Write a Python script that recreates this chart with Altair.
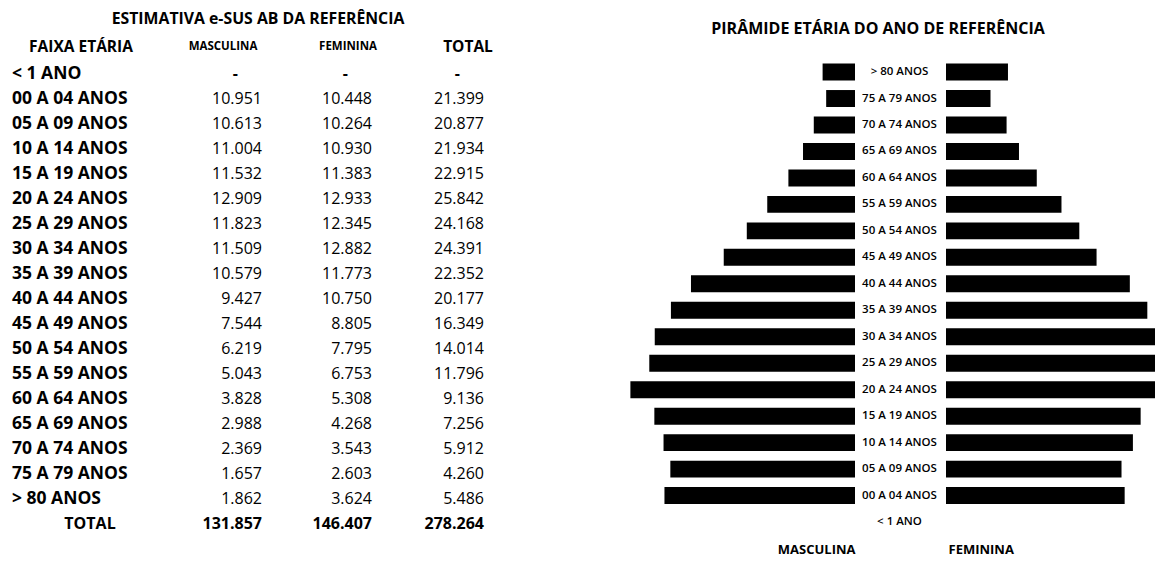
import altair as alt
import pandas as pd

# ---------------- data ----------------
faixas = ["< 1 ANO", "00 A 04 ANOS", "05 A 09 ANOS", "10 A 14 ANOS", "15 A 19 ANOS",
          "20 A 24 ANOS", "25 A 29 ANOS", "30 A 34 ANOS", "35 A 39 ANOS", "40 A 44 ANOS",
          "45 A 49 ANOS", "50 A 54 ANOS", "55 A 59 ANOS", "60 A 64 ANOS", "65 A 69 ANOS",
          "70 A 74 ANOS", "75 A 79 ANOS", "> 80 ANOS"]
masculina = [None, 10951, 10613, 11004, 11532, 12909, 11823, 11509, 10579, 9427,
             7544, 6219, 5043, 3828, 2988, 2369, 1657, 1862]
feminina = [None, 10448, 10264, 10930, 11383, 12933, 12345, 12882, 11773, 10750,
            8805, 7795, 6753, 5308, 4268, 3543, 2603, 3624]
total = [None, 21399, 20877, 21934, 22915, 25842, 24168, 24391, 22352, 20177,
         16349, 14014, 11796, 9136, 7256, 5912, 4260, 5486]
totais = [131857, 146407, 278264]

colunas = ["faixa", "masc", "fem", "total"]
cabecalho = ["FAIXA ETÁRIA", "MASCULINA", "FEMININA", "TOTAL"]

FONT = "Open Sans"


def fmt(v):
    return f"{v:,}".replace(",", ".")


# ---------------- table ----------------
rows = list(range(1, len(faixas) + 1))
total_row = len(faixas) + 1
col_idx = {c: i for i, c in enumerate(colunas)}

lab_df = pd.DataFrame({"row": rows, "label": faixas, "c": 0})
num_rec, dash_rec = [], []
for r, m, f, t in zip(rows, masculina, feminina, total):
    for col, v in (("masc", m), ("fem", f), ("total", t)):
        if v is None:
            dash_rec.append({"row": r, "c": col_idx[col], "text": "-"})
        else:
            num_rec.append({"row": r, "c": col_idx[col], "text": fmt(v)})
num_df = pd.DataFrame(num_rec)
dash_df = pd.DataFrame(dash_rec)
tot_df = pd.DataFrame({"row": total_row, "c": [1, 2, 3], "text": [fmt(v) for v in totais]})
tot_lab_df = pd.DataFrame({"row": [total_row], "c": [0], "text": ["TOTAL"]})
head_df = pd.DataFrame({"row": 0, "c": [0, 1, 2, 3], "text": cabecalho})
head_big = head_df[head_df["c"].isin([0, 3])]
head_small = head_df[head_df["c"].isin([1, 2])]

anchor_scale = alt.Scale(domain=[0, 1, 2, 3], range=[4, 254, 364, 476])
center_scale = alt.Scale(domain=[0, 1, 2, 3], range=[73, 215, 340, 460])
yscale = alt.Scale(domain=[0, total_row], range=[12, 487])

X_anchor = alt.X("c:Q", scale=anchor_scale, axis=None)
X_center = alt.X("c:Q", scale=center_scale, axis=None)
Y_row = alt.Y("row:Q", scale=yscale, axis=None)

labels_layer = alt.Chart(lab_df).mark_text(
    align="left", baseline="middle", font=FONT, fontSize=17.5, fontWeight="bold", color="black"
).encode(x=X_anchor, y=Y_row, text="label:N")

nums_layer = alt.Chart(num_df).mark_text(
    align="right", baseline="middle", font=FONT, fontSize=16, color="black"
).encode(x=X_anchor, y=Y_row, text="text:N")

dash_layer = alt.Chart(dash_df).mark_text(
    align="right", baseline="middle", font=FONT, fontSize=16, fontWeight="bold", color="black", dx=-24
).encode(x=X_anchor, y=Y_row, text="text:N")

tot_layer = alt.Chart(tot_df).mark_text(
    align="right", baseline="middle", font=FONT, fontSize=16, fontWeight="bold", color="black"
).encode(x=X_anchor, y=Y_row, text="text:N")

tot_lab_layer = alt.Chart(tot_lab_df).mark_text(
    align="center", baseline="middle", font=FONT, fontSize=16, fontWeight="bold", color="black", dx=9
).encode(x=X_center, y=Y_row, text="text:N")

head_big_layer = alt.Chart(head_big).mark_text(
    align="center", baseline="middle", font=FONT, fontSize=15.5, fontWeight="bold", color="black", dy=-2
).encode(x=X_center, y=Y_row, text="text:N")

head_small_layer = alt.Chart(head_small).mark_text(
    align="center", baseline="middle", font=FONT, fontSize=11.5, fontWeight="bold", color="black", dy=-2
).encode(x=X_center, y=Y_row, text="text:N")

table = alt.layer(
    labels_layer, nums_layer, dash_layer, tot_layer, tot_lab_layer, head_big_layer, head_small_layer
).resolve_scale(x="independent").properties(
    width=500, height=500,
    title=alt.Title("ESTIMATIVA e-SUS AB DA REFERÊNCIA", font=FONT, fontSize=15.8,
                    fontWeight="bold", color="black", offset=9, anchor="middle"),
)

# ---------------- pyramid ----------------
ordem = list(reversed(faixas))  # top to bottom
pyr_df = pd.DataFrame({"faixa": faixas, "masculina": masculina, "feminina": feminina})

Y_band = alt.Y("faixa:N", sort=ordem,
               scale=alt.Scale(domain=ordem, range=[21.8, 498.3], paddingInner=0.36, paddingOuter=0.18),
               axis=None)

male = alt.Chart(pyr_df).mark_bar(color="black").encode(
    x=alt.X("masculina:Q", scale=alt.Scale(domain=[0, 14598], reverse=True, nice=False),
            axis=alt.Axis(title="MASCULINA", labels=False, ticks=False, domain=False, grid=False,
                          titleFont=FONT, titleFontSize=13, titleFontWeight="bold", titleColor="black",
                          titleX=254, titleAlign="right", titlePadding=6)),
    y=Y_band,
).properties(width=254, height=500)

mid = alt.Chart(pyr_df).mark_text(
    font=FONT, fontSize=11.5, fontWeight=600, color="black", dx=-1, baseline="middle"
).encode(y=Y_band, text="faixa:N").properties(width=91, height=500)

female = alt.Chart(pyr_df).mark_bar(color="black", clip=True).encode(
    x=alt.X("feminina:Q", scale=alt.Scale(domain=[0, 12222], nice=False),
            axis=alt.Axis(title="FEMININA", labels=False, ticks=False, domain=False, grid=False,
                          titleFont=FONT, titleFontSize=13, titleFontWeight="bold", titleColor="black",
                          titleX=2, titleAlign="left", titlePadding=6)),
    y=Y_band,
).properties(width=209, height=500)

pyramid = alt.hconcat(
    male, mid, female, spacing=0, bounds="flush",
    title=alt.Title("PIRÂMIDE ETÁRIA DO ANO DE REFERÊNCIA", font=FONT, fontSize=16,
                    fontWeight="bold", color="black", offset=0, anchor="middle"),
)

chart = alt.hconcat(table, pyramid, spacing=93, bounds="flush").properties(
    padding={"left": 0, "top": 3, "right": 0, "bottom": 0}
).configure_view(stroke=None)

chart.save("out.html", embed_options={"renderer": "svg", "actions": False})
